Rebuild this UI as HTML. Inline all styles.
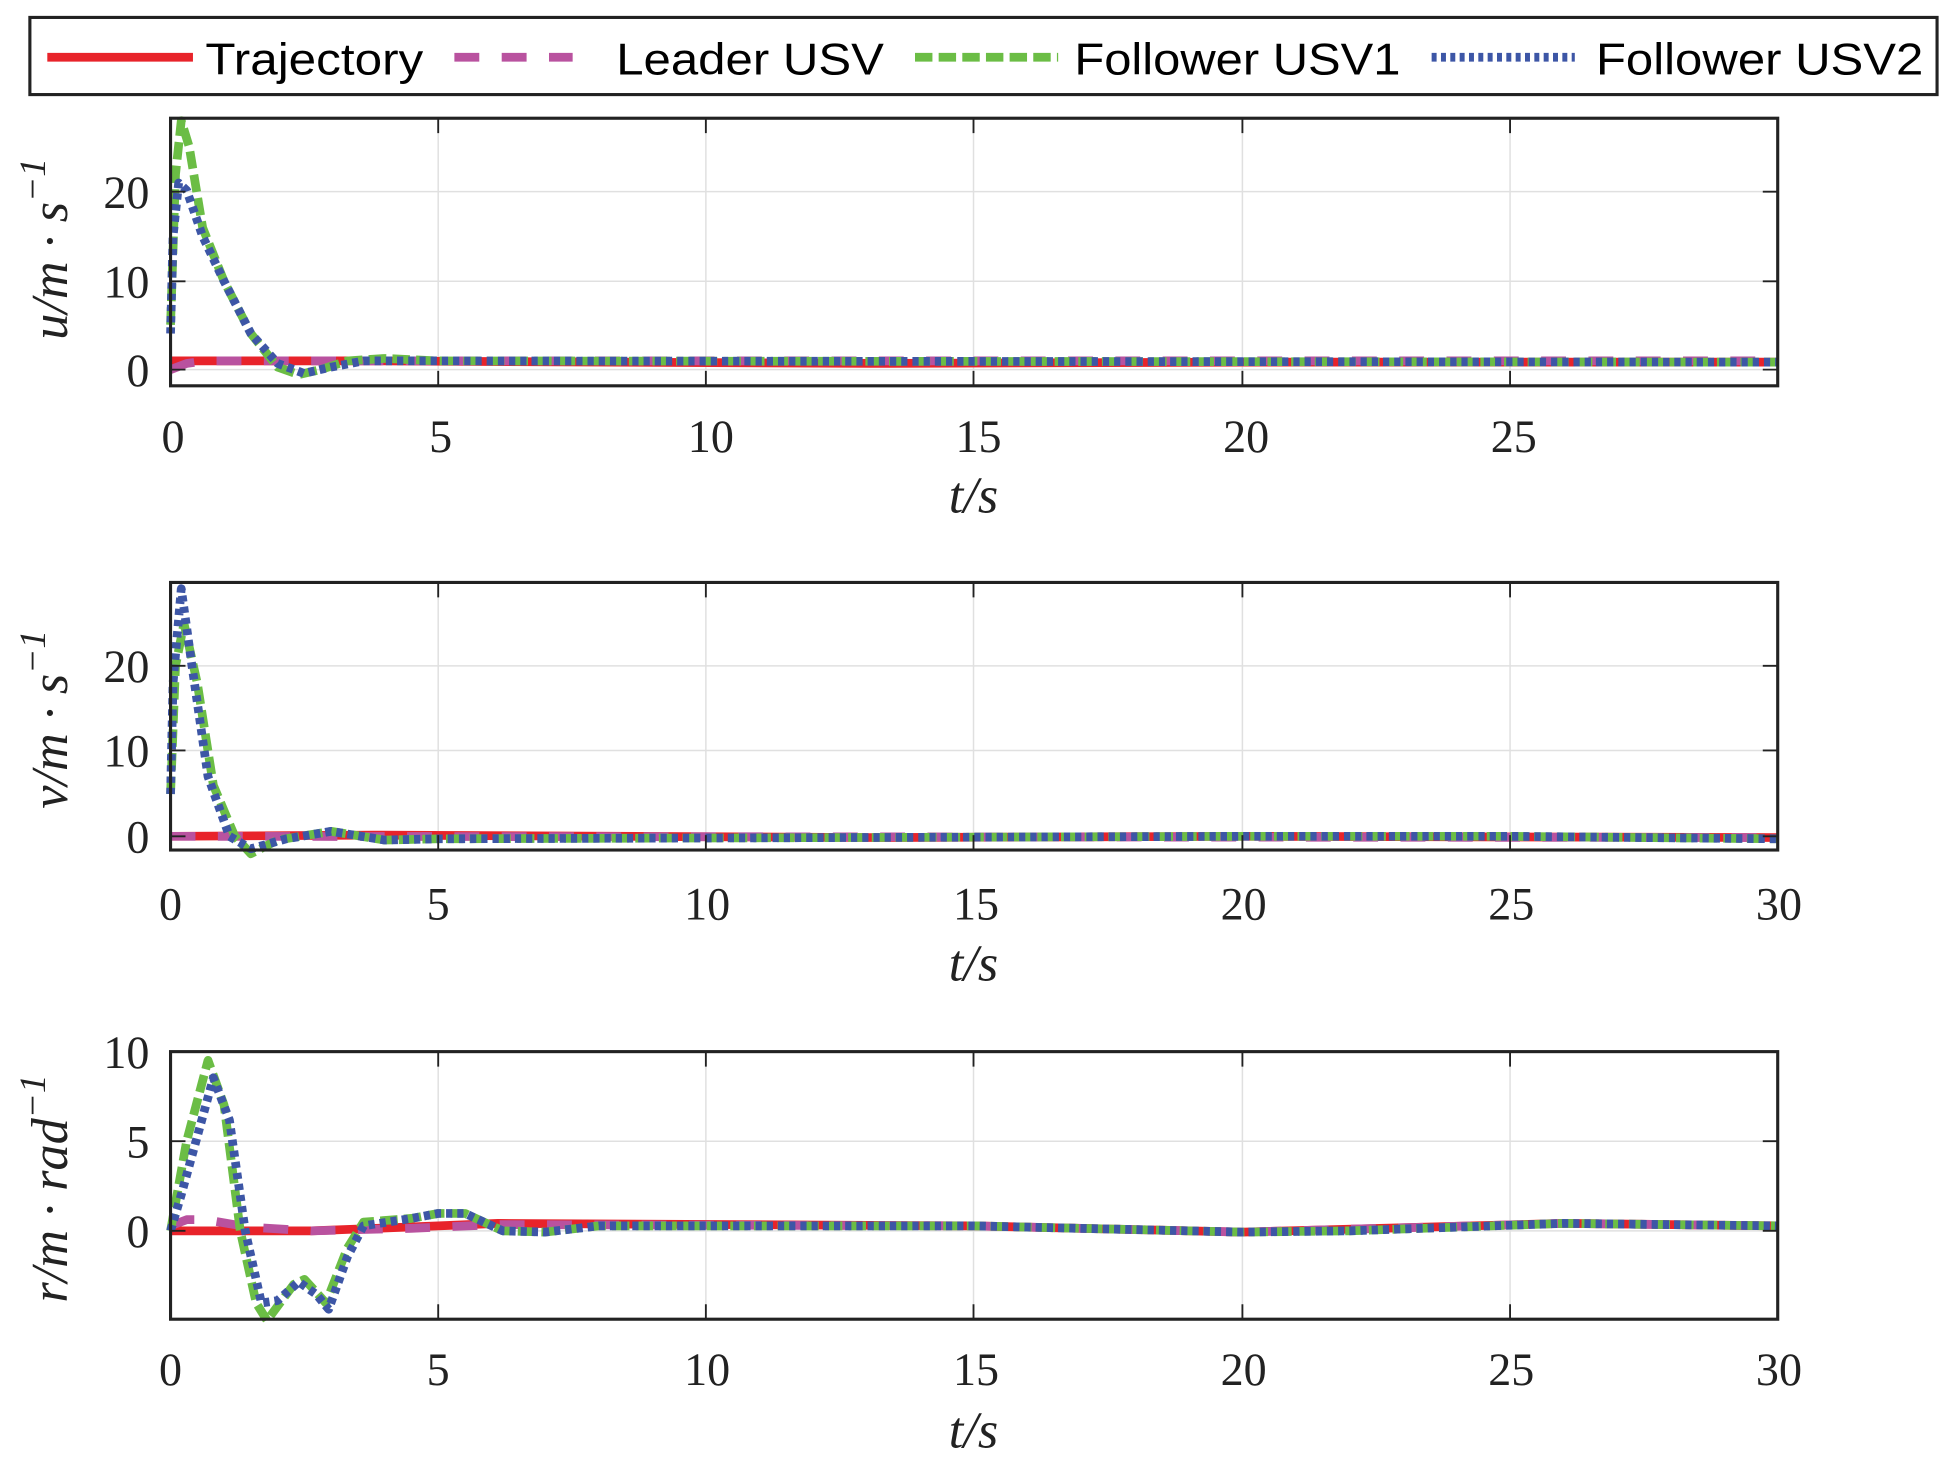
<!DOCTYPE html>
<html><head><meta charset="utf-8"><style>html,body{margin:0;padding:0;background:#fff}svg{display:block}</style></head><body>
<svg width="1952" height="1481" viewBox="0 0 1568 1190" preserveAspectRatio="none" xmlns="http://www.w3.org/2000/svg">
<rect width="1568" height="1190" fill="#fff"/>
<rect x="24" y="14" width="1532" height="62" fill="#fff" stroke="#222" stroke-width="2.5"/>
<line x1="38" y1="46" x2="155" y2="46" stroke="#e8232a" stroke-width="7"/>
<text x="165" y="60" font-family="Liberation Sans, sans-serif" font-size="36" textLength="175" lengthAdjust="spacingAndGlyphs">Trajectory</text>
<line x1="365" y1="46" x2="460" y2="46" stroke="#b9529f" stroke-width="7" stroke-dasharray="20,18"/>
<text x="495" y="60" font-family="Liberation Sans, sans-serif" font-size="36" textLength="215" lengthAdjust="spacingAndGlyphs">Leader USV</text>
<line x1="735" y1="46" x2="850" y2="46" stroke="#6bbd45" stroke-width="7" stroke-dasharray="14,5"/>
<text x="863" y="60" font-family="Liberation Sans, sans-serif" font-size="36" textLength="262" lengthAdjust="spacingAndGlyphs">Follower USV1</text>
<line x1="1150" y1="46" x2="1265" y2="46" stroke="#3d56a6" stroke-width="7" stroke-dasharray="4,3.5"/>
<text x="1282" y="60" font-family="Liberation Sans, sans-serif" font-size="36" textLength="263" lengthAdjust="spacingAndGlyphs">Follower USV2</text>

<g stroke="#e0e0e0" stroke-width="1.2">
<line x1="352" y1="95" x2="352" y2="310"/><line x1="567" y1="95" x2="567" y2="310"/><line x1="782" y1="95" x2="782" y2="310"/><line x1="998" y1="95" x2="998" y2="310"/><line x1="1213" y1="95" x2="1213" y2="310"/>
<line x1="137" y1="297" x2="1428" y2="297"/><line x1="137" y1="226" x2="1428" y2="226"/><line x1="137" y1="154" x2="1428" y2="154"/>
<line x1="352" y1="468" x2="352" y2="683"/><line x1="567" y1="468" x2="567" y2="683"/><line x1="782" y1="468" x2="782" y2="683"/><line x1="998" y1="468" x2="998" y2="683"/><line x1="1213" y1="468" x2="1213" y2="683"/>
<line x1="137" y1="672" x2="1428" y2="672"/><line x1="137" y1="603" x2="1428" y2="603"/><line x1="137" y1="535" x2="1428" y2="535"/>
<line x1="352" y1="845" x2="352" y2="1060"/><line x1="567" y1="845" x2="567" y2="1060"/><line x1="782" y1="845" x2="782" y2="1060"/><line x1="998" y1="845" x2="998" y2="1060"/><line x1="1213" y1="845" x2="1213" y2="1060"/>
<line x1="137" y1="989" x2="1428" y2="989"/><line x1="137" y1="917" x2="1428" y2="917"/>
</g>

<g fill="none" stroke-width="7" stroke-linejoin="round">
<polyline stroke="#e8232a" points="137,290 300,290 700,292 1000,291 1428,291"/>
<polyline stroke="#b9529f" stroke-dasharray="20,18" points="137,297 150,292 165,290 1428,290"/>
<polyline stroke="#6bbd45" stroke-dasharray="14,5" points="137,261 141,140 145.6,97 152,118 162.8,183 180,226 201.5,268 223,295 240,301 257.5,297 279,290 309,288 352,290 1428,291"/>
<polyline stroke="#3d56a6" stroke-dasharray="5,4" points="137,268 139,190 143.5,147 150,153 162.8,190 180,226 201.5,268 223,292 244,300 266,295 292,290 352,290 1428,291"/>
<polyline stroke="#e8232a" points="137,672 300,671 700,673 1000,672 1428,673"/>
<polyline stroke="#b9529f" stroke-dasharray="20,18" points="137,672 1428,673"/>
<polyline stroke="#6bbd45" stroke-dasharray="14,5" points="137,638 141,535 147.8,501 158.5,549 171.4,631 188.6,672 201.5,686 223,675 266,668 309,675 352,674 998,672 1213,672 1428,674"/>
<polyline stroke="#3d56a6" stroke-dasharray="5,4" points="137,638 139,549 145.6,473 154.2,535 167.1,624 184.3,672 201.5,682 230,674 266,668 309,675 352,674 998,672 1213,672 1428,674"/>
<polyline stroke="#e8232a" points="137,989 250,989 352,985 400,983 782,985 998,990 1256,983 1428,985"/>
<polyline stroke="#b9529f" stroke-dasharray="20,18" points="137,985 150,980 165,980 200,986 250,989 330,987 400,984 782,985 998,990 1256,983 1428,985"/>
<polyline stroke="#6bbd45" stroke-dasharray="14,5" points="137,989 149.9,917 167.1,852 180,888 193,989 205.8,1047 214.5,1061 236,1032 244.6,1028 261.8,1047 279,1003 292,982 330.6,979 352,975 373.7,975 403.8,989 438,990 481,985 782,985 998,990 1084,989 1256,983 1428,985"/>
<polyline stroke="#3d56a6" stroke-dasharray="5,4" points="137,989 145.6,960 171.4,866 184.3,900 197,989 210,1047 223,1045 240,1030 254,1040 264,1052 279,1010 292,985 330.6,979 352,975 373.7,975 403.8,989 438,990 481,985 782,985 998,990 1084,989 1256,983 1428,985"/>
</g>

<g fill="none" stroke="#222" stroke-width="2.5">
<rect x="137" y="95" width="1291" height="215"/>
<rect x="137" y="468" width="1291" height="215"/>
<rect x="137" y="845" width="1291" height="215"/>
</g>
<g stroke="#222" stroke-width="1.5">
<path d="M352 95v12M567 95v12M782 95v12M998 95v12M1213 95v12M352 310v-12M567 310v-12M782 310v-12M998 310v-12M1213 310v-12M137 297h12M137 226h12M137 154h12M1428 297h-12M1428 226h-12M1428 154h-12"/>
<path d="M352 468v12M567 468v12M782 468v12M998 468v12M1213 468v12M352 683v-12M567 683v-12M782 683v-12M998 683v-12M1213 683v-12M137 672h12M137 603h12M137 535h12M1428 672h-12M1428 603h-12M1428 535h-12"/>
<path d="M352 845v12M567 845v12M782 845v12M998 845v12M1213 845v12M352 1060v-12M567 1060v-12M782 1060v-12M998 1060v-12M1213 1060v-12M137 989h12M137 917h12M1428 989h-12M1428 917h-12"/>
</g>

<g font-family="Liberation Serif, serif" font-size="37" fill="#222" text-anchor="middle">
<text x="139" y="363">0</text><text x="354" y="363">5</text><text x="571" y="363">10</text><text x="786" y="363">15</text><text x="1001" y="363">20</text><text x="1216" y="363">25</text>
<text x="137" y="739">0</text><text x="352" y="739">5</text><text x="568" y="739">10</text><text x="784" y="739">15</text><text x="999" y="739">20</text><text x="1214" y="739">25</text><text x="1429" y="739">30</text>
<text x="137" y="1113">0</text><text x="352" y="1113">5</text><text x="568" y="1113">10</text><text x="784" y="1113">15</text><text x="999" y="1113">20</text><text x="1214" y="1113">25</text><text x="1429" y="1113">30</text>
</g>
<g font-family="Liberation Serif, serif" font-size="37" fill="#222" text-anchor="end">
<text x="120" y="310">0</text><text x="120" y="239">10</text><text x="120" y="167">20</text>
<text x="120" y="685">0</text><text x="120" y="616">10</text><text x="120" y="548">20</text>
<text x="120" y="1002">0</text><text x="120" y="930">5</text><text x="120" y="858">10</text>
</g>
<g font-family="Liberation Serif, serif" font-size="42" font-style="italic" fill="#222" text-anchor="middle">
<text x="782" y="412">t/s</text><text x="782" y="788">t/s</text><text x="782" y="1163">t/s</text>
<text transform="translate(54,200) rotate(-90)">u/m · s<tspan dy="-18" font-size="30">−1</tspan></text>
<text transform="translate(54,578) rotate(-90)">v/m · s<tspan dy="-18" font-size="30">−1</tspan></text>
<text transform="translate(54,955) rotate(-90)">r/m · rad<tspan dy="-18" font-size="30">−1</tspan></text>
</g>
</svg>
</body></html>
